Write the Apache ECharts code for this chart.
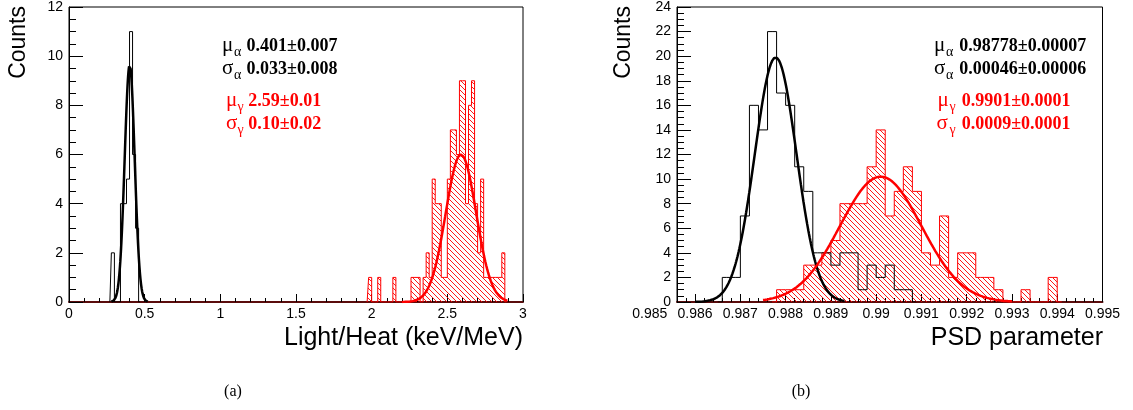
<!DOCTYPE html>
<html><head><meta charset="utf-8">
<script src="https://cdn.jsdelivr.net/npm/echarts@6/dist/echarts.min.js"></script>
<style>html,body{margin:0;padding:0;background:#fff}#c{width:1133px;height:410px}</style>
</head><body><div id="c"></div>
<script>
// ================= DATA =================
// Panel (a): Light/Heat (keV/MeV)
const xTicksA = [0, 0.5, 1, 1.5, 2, 2.5, 3];
const yTicksA = [0, 2, 4, 6, 8, 10, 12];
const binWidthA = 0.02;
const alphaA_firstCentre = 0.29;
const alphaA_counts = [2, 0, 0, 4, 4, 5, 11, 6, 3];
const gammaA_firstCentre = 1.99;
const gammaA_counts = [1, 0, 0, 1, 0, 0, 0, 0, 1, 0, 0, 0, 0, 0, 1, 1, 1, 0, 1, 2, 1, 5, 4, 4, 1, 1, 5, 7, 7, 6, 9, 9, 4, 8, 9, 4, 2, 5, 1, 1, 1, 1, 1, 1, 2];
// Gaussian fits (amplitude, mean, sigma, fit range)
const fitA_alpha = { amp: 9.65, mu: 0.401, sigma: 0.033, lo: 0.28, hi: 0.52 };
const fitA_gamma = { amp: 6.0, mu: 2.59, sigma: 0.10, lo: 2.2, hi: 2.9 };
const textA = [
  { sym: 'μ', sub: 'α', val: '0.401±0.007', color: '#000000' },
  { sym: 'σ', sub: 'α', val: '0.033±0.008', color: '#000000' },
  { sym: 'μ', sub: 'γ', val: '2.59±0.01', color: '#ff0000' },
  { sym: 'σ', sub: 'γ', val: '0.10±0.02', color: '#ff0000' }
];

// Panel (b): PSD parameter
const xTicksB = [0.985, 0.986, 0.987, 0.988, 0.989, 0.99, 0.991, 0.992, 0.993, 0.994, 0.995];
const yTicksB = [0, 2, 4, 6, 8, 10, 12, 14, 16, 18, 20, 22, 24];
const binWidthB = 0.0002;
const alphaB_firstCentre = 0.9867;
const alphaB_counts = [2, 2, 7, 16, 14, 22, 17, 16, 11, 9, 4, 4, 3, 4, 4, 1, 3, 2, 3, 1, 1];
const gammaB_firstCentre = 0.9879;
const gammaB_counts = [1, 1, 1, 3, 3, 4, 5, 8, 8, 8, 11, 14, 7, 9, 11, 9, 4, 3, 7, 2, 4, 4, 2, 2, 1, 0, 0, 1, 0, 0, 2];
const fitB_alpha = { amp: 19.9, mu: 0.98778, sigma: 0.00046, lo: 0.986, hi: 0.9893 };
const fitB_gamma = { amp: 10.2, mu: 0.9901, sigma: 0.0009, lo: 0.9875, hi: 0.993 };
const textB = [
  { sym: 'μ', sub: 'α', val: '0.98778±0.00007', color: '#000000' },
  { sym: 'σ', sub: 'α', val: '0.00046±0.00006', color: '#000000' },
  { sym: 'μ', sub: 'γ', val: '0.9901±0.0001', color: '#ff0000' },
  { sym: 'σ', sub: 'γ', val: '0.0009±0.0001', color: '#ff0000' }
];
const titles = { yA: 'Counts', xA: 'Light/Heat (keV/MeV)', yB: 'Counts', xB: 'PSD parameter', capA: '(a)', capB: '(b)' };

// ================= HELPERS =================
const SANS = '"Liberation Sans", Arial, sans-serif';
const SERIF = '"Liberation Serif", "Times New Roman", serif';

function histData(first, w, counts) {
  const pts = [[first - w, 0]];
  counts.forEach((c, i) => pts.push([first + i * w, c]));
  pts.push([first + counts.length * w, 0]);
  return pts;
}
function fitCurve(f) {
  const pts = [], n = 240;
  for (let i = 0; i <= n; i++) {
    const x = f.lo + (f.hi - f.lo) * i / n;
    pts.push([x, f.amp * Math.exp(-0.5 * Math.pow((x - f.mu) / f.sigma, 2))]);
  }
  return pts;
}
function hatch() {
  const s = 5, c = document.createElement('canvas');
  c.width = s; c.height = s;
  const g = c.getContext('2d');
  g.strokeStyle = 'rgba(255,0,0,0.9)'; g.lineWidth = 1;
  g.beginPath();
  g.moveTo(-1, -1); g.lineTo(s + 1, s + 1);
  g.moveTo(-1, s - 1); g.lineTo(1, s + 1);
  g.moveTo(s - 1, -1); g.lineTo(s + 1, 1);
  g.stroke();
  return c;
}
const hatchPattern = { image: hatch(), repeat: 'repeat' };

function histSeries(xi, data, color, filled, z) {
  const s = {
    type: 'line', xAxisIndex: xi, yAxisIndex: xi, data: data, step: 'middle',
    symbol: 'none', showSymbol: false, silent: true, z: z,
    lineStyle: { color: color, width: 1 }
  };
  if (filled) s.areaStyle = { color: hatchPattern, opacity: 1 };
  return s;
}
function curveSeries(xi, data, color, z) {
  return {
    type: 'line', xAxisIndex: xi, yAxisIndex: xi, data: data, symbol: 'none',
    showSymbol: false, silent: true, z: z, lineStyle: { color: color, width: 2.5 }
  };
}
function xAxisCfg(grid, min, max, interval, extra) {
  return Object.assign({
    type: 'value', gridIndex: grid, min: min, max: max, interval: interval,
    axisLine: { show: true, onZero: false, lineStyle: { color: '#5a0c0c', width: 2 } },
    axisTick: { show: true, inside: true, length: 8, lineStyle: { color: '#000', width: 1 } },
    minorTick: { show: false },
    splitLine: { show: false },
    axisLabel: { show: true, color: '#000', fontFamily: SANS, fontSize: 14, margin: 5 }
  }, extra || {});
}
function yAxisCfg(grid, min, max, interval, ticks) {
  return {
    type: 'value', gridIndex: grid, min: min, max: max, interval: interval,
    axisLine: { show: true, onZero: false, lineStyle: { color: '#000', width: 1 } },
    axisTick: { show: true, inside: true, length: 14, lineStyle: { color: '#000', width: 1 } },
    minorTick: { show: true, splitNumber: 4, length: 7, lineStyle: { color: '#000', width: 1 } },
    splitLine: { show: false },
    axisLabel: { show: true, color: '#000', fontFamily: SANS, fontSize: 14, margin: 6,
      formatter: v => (ticks.indexOf(v) >= 0 ? String(v) : '') }
  };
}
function txt(x, y, s, font, color, align) {
  return { type: 'text', x: x, y: y, silent: true, z: 100,
    style: { text: s, font: font, fill: color || '#000', align: align || 'left', verticalAlign: 'middle' } };
}
function annotations(list, symX, subX, valX, rowsY) {
  const out = [];
  list.forEach((t, i) => {
    out.push(txt(symX[i], rowsY[i] - 1, t.sym, '21px ' + SERIF, t.color));
    out.push(txt(subX[i], rowsY[i] + 6, t.sub, '14px ' + SERIF, t.color));
    out.push(txt(valX[i], rowsY[i], t.val, 'bold 18px ' + SERIF, t.color));
  });
  return out;
}

// ================= CHART =================
const chart = echarts.init(document.getElementById('c'), null, { renderer: 'canvas', width: 1133, height: 410 });
const rows = [46, 69, 101, 124];
const majorB = xTicksB.slice(1);
const option = {
  animation: false,
  backgroundColor: '#ffffff',
  grid: [
    { left: 69, top: 7, width: 454, height: 295, show: true, borderColor: '#000', borderWidth: 1, backgroundColor: 'transparent' },
    { left: 677, top: 7, width: 425.5, height: 295, show: true, borderColor: '#000', borderWidth: 1, backgroundColor: 'transparent' },
    { left: 649.73, top: 7, width: 452.77, height: 295, show: false }
  ],
  xAxis: [
    xAxisCfg(0, xTicksA[0], xTicksA[xTicksA.length - 1], xTicksA[1] - xTicksA[0], {
      minorTick: { show: true, splitNumber: 5, length: 4, lineStyle: { color: '#000', width: 1 } }
    }),
    xAxisCfg(1, 0.9856, xTicksB[xTicksB.length - 1], binWidthB, {
      axisTick: { show: true, inside: true, length: 4, lineStyle: { color: '#000', width: 1 } },
      axisLabel: { show: false }
    }),
    xAxisCfg(2, xTicksB[0], xTicksB[xTicksB.length - 1], 0.001, {
      axisLine: { show: false },
      axisTick: { show: true, inside: true, length: 8, customValues: majorB, lineStyle: { color: '#000', width: 1 } },
      axisLabel: { show: true, color: '#000', fontFamily: SANS, fontSize: 14, margin: 5 }
    })
  ],
  yAxis: [
    yAxisCfg(0, yTicksA[0], yTicksA[yTicksA.length - 1], 2, yTicksA),
    yAxisCfg(1, yTicksB[0], yTicksB[yTicksB.length - 1], 2, yTicksB),
    { type: 'value', gridIndex: 2, min: 0, max: 1, show: false }
  ],
  series: [
    histSeries(0, histData(alphaA_firstCentre, binWidthA, alphaA_counts), '#000000', false, 3),
    curveSeries(0, fitCurve(fitA_alpha), '#000000', 4),
    histSeries(0, histData(gammaA_firstCentre, binWidthA, gammaA_counts), '#ff0000', true, 3),
    curveSeries(0, fitCurve(fitA_gamma), '#ff0000', 5),

    histSeries(1, histData(gammaB_firstCentre, binWidthB, gammaB_counts), '#ff0000', true, 2),
    histSeries(1, histData(alphaB_firstCentre, binWidthB, alphaB_counts), '#000000', false, 3),
    curveSeries(1, fitCurve(fitB_alpha), '#000000', 4),
    curveSeries(1, fitCurve(fitB_gamma), '#ff0000', 5)
  ],
  graphic: [
    { type: 'text', x: 19, y: 6, rotation: Math.PI / 2, silent: true,
      style: { text: titles.yA, font: '23px ' + SANS, fill: '#000', align: 'right', verticalAlign: 'middle' } },
    { type: 'text', x: 624, y: 6, rotation: Math.PI / 2, silent: true,
      style: { text: titles.yB, font: '23px ' + SANS, fill: '#000', align: 'right', verticalAlign: 'middle' } },
    txt(523, 338, titles.xA, '25px ' + SANS, '#000', 'right'),
    txt(1103, 338, titles.xB, '25px ' + SANS, '#000', 'right'),
    txt(233, 392, titles.capA, '16px ' + SERIF, '#000', 'center'),
    txt(801, 392, titles.capB, '16px ' + SERIF, '#000', 'center')
  ].concat(
    annotations(textA, [222, 222, 226, 226], [234, 234, 237.5, 237.5], [246.5, 246.5, 248.3, 248.3], rows),
    annotations(textB, [934, 934, 937.5, 936.5], [946, 946, 949.5, 949.5], [959.3, 959.3, 961.7, 961.7], rows)
  )
};
chart.setOption(option);
</script>
</body></html>
